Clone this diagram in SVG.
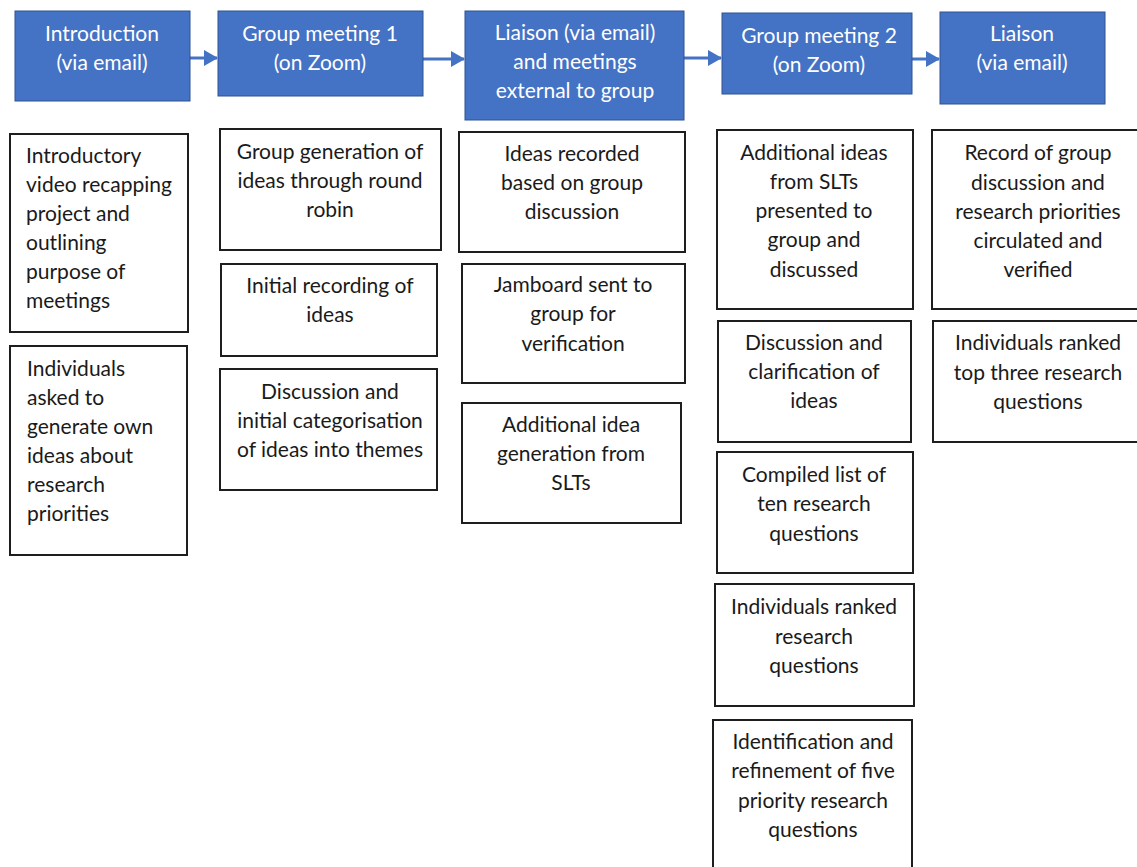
<svg xmlns="http://www.w3.org/2000/svg" width="1137" height="867" viewBox="0 0 1137 867">
<defs>
<marker id="ah" markerWidth="14" markerHeight="16" refX="13" refY="8" orient="auto" markerUnits="userSpaceOnUse">
<path d="M0,0 L14,8 L0,16 Z" fill="#4472C4"/>
</marker>
<style>
.blue rect{fill:#4472C4;stroke:#2F528F;stroke-width:1}
.blue text{fill:#ffffff;font-family:Lato,"Open Sans","Liberation Sans",sans-serif;font-size:21px;text-anchor:middle}
.box rect{fill:#ffffff;stroke:#1e1e1e;stroke-width:2}
.box text{fill:#1a1a1a;font-family:Lato,"Open Sans","Liberation Sans",sans-serif;font-size:21px;text-anchor:middle}
.box text.l{text-anchor:start}
.conn line{stroke:#4472C4;stroke-width:3;marker-end:url(#ah)}
</style>
</defs>
<rect width="1137" height="867" fill="#ffffff"/>

<g id="connectors" class="conn">
<line x1="190" y1="58" x2="217" y2="58"/>
<line x1="423" y1="59" x2="464" y2="59"/>
<line x1="684" y1="58" x2="721" y2="58"/>
<line x1="912" y1="59" x2="939" y2="59"/>
</g>

<g id="intro" class="blue">
<rect x="15" y="11" width="175" height="90"/>
<text x="102" y="41">Introduction</text>
<text x="102" y="70">(via email)</text>
</g>
<g id="meeting1" class="blue">
<rect x="218" y="11" width="205" height="85"/>
<text x="320" y="41">Group meeting 1</text>
<text x="320" y="70">(on Zoom)</text>
</g>
<g id="liaison1" class="blue">
<rect x="465" y="11" width="219" height="109"/>
<text x="575" y="40">Liaison (via email)</text>
<text x="575" y="69">and meetings</text>
<text x="575" y="98">external to group</text>
</g>
<g id="meeting2" class="blue">
<rect x="722" y="13" width="190" height="81"/>
<text x="819" y="43">Group meeting 2</text>
<text x="819" y="72">(on Zoom)</text>
</g>
<g id="liaison2" class="blue">
<rect x="940" y="12" width="165" height="92"/>
<text x="1022" y="41">Liaison</text>
<text x="1022" y="70">(via email)</text>
</g>

<g id="c1a" class="box">
<rect x="10" y="134" width="178" height="198"/>
<text class="l" x="26" y="163">Introductory</text>
<text class="l" x="26" y="192">video recapping</text>
<text class="l" x="26" y="221">project and</text>
<text class="l" x="26" y="250">outlining</text>
<text class="l" x="26" y="279">purpose of</text>
<text class="l" x="26" y="308">meetings</text>
</g>
<g id="c1b" class="box">
<rect x="10" y="346" width="177" height="209"/>
<text class="l" x="27" y="376">Individuals</text>
<text class="l" x="27" y="405">asked to</text>
<text class="l" x="27" y="434">generate own</text>
<text class="l" x="27" y="463">ideas about</text>
<text class="l" x="27" y="492">research</text>
<text class="l" x="27" y="521">priorities</text>
</g>

<g id="c2a" class="box">
<rect x="220" y="129" width="221" height="121"/>
<text x="330" y="159">Group generation of</text>
<text x="330" y="188">ideas through round</text>
<text x="330" y="217">robin</text>
</g>
<g id="c2b" class="box">
<rect x="221" y="264" width="216" height="92"/>
<text x="330" y="293">Initial recording of</text>
<text x="330" y="322">ideas</text>
</g>
<g id="c2c" class="box">
<rect x="220" y="369" width="217" height="121"/>
<text x="330" y="399">Discussion and</text>
<text x="330" y="428">initial categorisation</text>
<text x="330" y="457">of ideas into themes</text>
</g>

<g id="c3a" class="box">
<rect x="459" y="132" width="226" height="120"/>
<text x="572" y="161">Ideas recorded</text>
<text x="572" y="190">based on group</text>
<text x="572" y="219">discussion</text>
</g>
<g id="c3b" class="box">
<rect x="462" y="264" width="223" height="119"/>
<text x="573" y="292">Jamboard sent to</text>
<text x="573" y="321">group for</text>
<text x="573" y="351">verification</text>
</g>
<g id="c3c" class="box">
<rect x="462" y="403" width="219" height="120"/>
<text x="571" y="432">Additional idea</text>
<text x="571" y="461">generation from</text>
<text x="571" y="490">SLTs</text>
</g>

<g id="c4a" class="box">
<rect x="717" y="130" width="196" height="179"/>
<text x="814" y="160">Additional ideas</text>
<text x="814" y="189">from SLTs</text>
<text x="814" y="218">presented to</text>
<text x="814" y="247">group and</text>
<text x="814" y="277">discussed</text>
</g>
<g id="c4b" class="box">
<rect x="718" y="321" width="193" height="121"/>
<text x="814" y="350">Discussion and</text>
<text x="814" y="379">clarification of</text>
<text x="814" y="408">ideas</text>
</g>
<g id="c4c" class="box">
<rect x="717" y="452" width="196" height="121"/>
<text x="814" y="482">Compiled list of</text>
<text x="814" y="511">ten research</text>
<text x="814" y="541">questions</text>
</g>
<g id="c4d" class="box">
<rect x="715" y="584" width="199" height="122"/>
<text x="814" y="614">Individuals ranked</text>
<text x="814" y="644">research</text>
<text x="814" y="673">questions</text>
</g>
<g id="c4e" class="box">
<rect x="713" y="720" width="199" height="160"/>
<text x="813" y="749">Identification and</text>
<text x="813" y="778">refinement of five</text>
<text x="813" y="808">priority research</text>
<text x="813" y="837">questions</text>
</g>

<g id="c5a" class="box">
<rect x="932" y="130" width="210" height="179"/>
<text x="1038" y="160">Record of group</text>
<text x="1038" y="190">discussion and</text>
<text x="1038" y="219">research priorities</text>
<text x="1038" y="248">circulated and</text>
<text x="1038" y="277">verified</text>
</g>
<g id="c5b" class="box">
<rect x="933" y="321" width="209" height="121"/>
<text x="1038" y="350">Individuals ranked</text>
<text x="1038" y="380">top three research</text>
<text x="1038" y="409">questions</text>
</g>
</svg>
